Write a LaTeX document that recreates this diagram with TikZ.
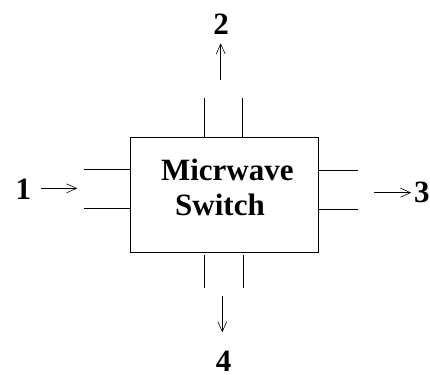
\documentclass[tikz,border=0pt]{standalone}
\usepackage{fontspec}
\setmainfont{Liberation Serif}
\usetikzlibrary{arrows.meta}
\begin{document}
\begin{tikzpicture}[x=1pt,y=-1pt,
  lbl/.style={font=\fontsize{31}{34}\selectfont\bfseries, inner sep=0pt},
  stub/.style={draw=black, line width=0.8pt},
  sig/.style={-{Straight Barb[length=10pt,width=9pt]}, line width=0.6pt, draw=black}]
\useasboundingbox (0,0) rectangle (430,374);
% switch box
\node[draw, line width=0.8pt, minimum width=188.3pt, minimum height=115pt,
      inner sep=0pt, anchor=north west] (sw) at (130,137.3) {};
\node[lbl, anchor=base] (txta) at (227.3,180.7) {Micrwave};
\node[lbl, anchor=base] (txtb) at (220,215) {Switch};
% port stubs
\coordinate (t1) at (204,98.3);
\coordinate (t2) at (242.7,98.3);
\coordinate (b1) at (204,288.3);
\coordinate (b2) at (243.3,288.3);
\coordinate (l1) at (84.3,169.3);
\coordinate (l2) at (84.3,208.3);
\coordinate (r1) at (357.7,170.3);
\coordinate (r2) at (357.7,209.3);
\draw[stub] (t1) -- (t1 |- sw.north);
\draw[stub] (t2) -- (t2 |- sw.north);
\draw[stub] (b1) -- ([yshift=-2pt]b1 |- sw.south);
\draw[stub] (b2) -- ([yshift=-2pt]b2 |- sw.south);
\draw[stub] (l1) -- (l1 -| sw.west);
\draw[stub] (l2) -- (l2 -| sw.west);
\draw[stub] (r1) -- (r1 -| sw.east);
\draw[stub] (r2) -- (r2 -| sw.east);
% labels
\node[lbl] (p1) at (23.3,188.8) {1};
\node[lbl] (p2) at (221.2,24.2) {2};
\node[lbl, anchor=west] (p3) at (413.8,192.8) {3};
\node[lbl, anchor=base] (p4) at (223.7,371) {4};
% signal arrows
\coordinate (a1s) at (40.7,188.3);
\coordinate (a1e) at (77.3,188.3);
\coordinate (a2s) at (220.7,80);
\coordinate (a2e) at (220.7,43.3);
\coordinate (a3s) at (374.3,192.7);
\coordinate (a3e) at (411.2,192.7);
\coordinate (a4s) at (222.3,295.7);
\coordinate (a4e) at (222.3,332.3);
\draw[sig] (a1s) -- (a1e);
\draw[sig] (a2s) -- (a2e);
\draw[sig] (a3s) -- (a3e);
\draw[sig] (a4s) -- (a4e);
\end{tikzpicture}
\end{document}
